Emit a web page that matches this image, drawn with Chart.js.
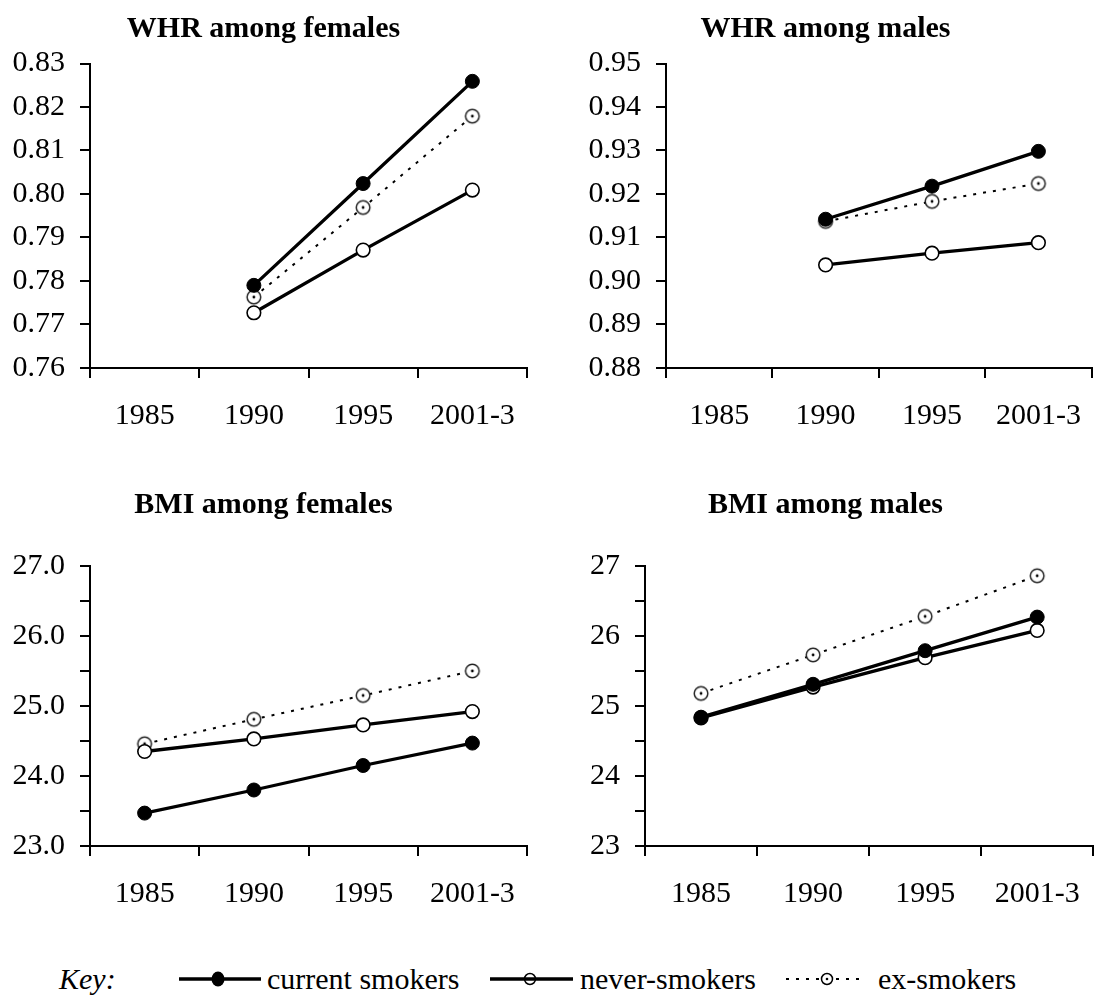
<!DOCTYPE html>
<html><head><meta charset="utf-8">
<script src="https://cdn.jsdelivr.net/npm/chart.js@4.4.0/dist/chart.umd.min.js"></script>
<style>
html,body{margin:0;padding:0;background:#fff;}
body{width:1102px;height:995px;position:relative;overflow:hidden;font-family:"Liberation Serif","Times New Roman",serif;}
.box{position:absolute;}
#legend{position:absolute;left:0;top:959px;width:1102px;height:40px;}
.lg{position:absolute;top:0;font-size:30px;line-height:40px;color:#000;white-space:nowrap;}
.ic{position:absolute;top:0;}
</style></head><body>
<div class="box" style="left:0;top:0;width:551px;height:440px"><canvas id="c1"></canvas></div>
<div class="box" style="left:551px;top:0;width:551px;height:440px"><canvas id="c2"></canvas></div>
<div class="box" style="left:0;top:440px;width:551px;height:478px"><canvas id="c3"></canvas></div>
<div class="box" style="left:551px;top:440px;width:551px;height:478px"><canvas id="c4"></canvas></div>
<div id="legend">
  <span class="lg" style="left:59px;font-style:italic">Key:</span>
  <canvas class="ic" id="k1" width="82" height="40" style="left:179px"></canvas>
  <span class="lg" style="left:267px">current smokers</span>
  <canvas class="ic" id="k2" width="83" height="40" style="left:490px"></canvas>
  <span class="lg" style="left:580px">never-smokers</span>
  <canvas class="ic" id="k3" width="74" height="40" style="left:786px"></canvas>
  <span class="lg" style="left:878px">ex-smokers</span>
</div>
<script>
// ---- data ----
const categories = ['1985', '1990', '1995', '2001-3'];
const seriesNames = ['current smokers', 'never-smokers', 'ex-smokers'];
const panelTitles = ['WHR among females', 'WHR among males', 'BMI among females', 'BMI among males'];

const whrFemaleCurrent = [null, 0.779, 0.8024, 0.8259];
const whrFemaleNever   = [null, 0.7727, 0.7871, 0.8009];
const whrFemaleEx      = [null, 0.7763, 0.7969, 0.8179];

const whrMaleCurrent = [null, 0.9142, 0.9218, 0.9298];
const whrMaleNever   = [null, 0.9037, 0.9064, 0.9088];
const whrMaleEx      = [null, 0.9137, 0.9183, 0.9224];

const bmiFemaleCurrent = [23.47, 23.80, 24.15, 24.47];
const bmiFemaleNever   = [24.35, 24.53, 24.73, 24.92];
const bmiFemaleEx      = [24.46, 24.81, 25.15, 25.50];

const bmiMaleCurrent = [24.84, 25.31, 25.79, 26.27];
const bmiMaleNever   = [24.83, 25.27, 25.69, 26.08];
const bmiMaleEx      = [25.18, 25.73, 26.28, 26.86];

const whrFemaleTicks = {min: 0.76, max: 0.83, step: 0.01};
const whrMaleTicks   = {min: 0.88, max: 0.95, step: 0.01};
const bmiFemaleTicks = {min: 23, max: 27, step: 0.5};
const bmiMaleTicks   = {min: 23, max: 27, step: 0.5};

// ---- styling ----
const FONT = '"Liberation Serif", "Times New Roman", serif';

function exMarker(r, stroke) {
  const c = document.createElement('canvas');
  const s = Math.ceil(r * 2 + 4);
  c.width = s; c.height = s;
  const g = c.getContext('2d');
  g.beginPath(); g.arc(s / 2, s / 2, r, 0, Math.PI * 2);
  g.fillStyle = '#fff'; g.fill();
  g.lineWidth = 1.5; g.strokeStyle = stroke; g.stroke();
  g.beginPath(); g.arc(s / 2, s / 2, 1.4, 0, Math.PI * 2);
  g.fillStyle = '#000'; g.fill();
  return c;
}
const exPoint = exMarker(6.8, '#222');

function datasets(cur, nev, ex) {
  return [
    {label: seriesNames[0], data: cur, borderColor: '#000', borderWidth: 3.3, pointStyle: 'circle',
     pointRadius: 7, pointBackgroundColor: '#000', pointBorderColor: '#000', pointBorderWidth: 1},
    {label: seriesNames[1], data: nev, borderColor: '#000', borderWidth: 3.3, pointStyle: 'circle',
     pointRadius: 6.8, pointBackgroundColor: '#fff', pointBorderColor: '#000', pointBorderWidth: 1.6},
    {label: seriesNames[2], data: ex, borderColor: '#000', borderWidth: 2, borderDash: [3, 7], pointStyle: exPoint,
     pointRadius: 6.8}
  ];
}

function makeChart(id, title, ds, tk, fmt, o) {
  new Chart(document.getElementById(id), {
    type: 'line',
    data: {labels: categories, datasets: ds},
    options: {
      responsive: true, maintainAspectRatio: false, animation: false,
      elements: {line: {tension: 0}},
      layout: {padding: {left: 0, right: o.padRight, top: 0, bottom: 0}},
      plugins: {
        legend: {display: false}, tooltip: {enabled: false},
        title: {display: true, text: title, color: '#000',
          font: {family: FONT, size: 30, weight: 'bold', lineHeight: 1.2},
          padding: {top: o.tTop, bottom: o.tBottom}}
      },
      scales: {
        x: {
          type: 'category', offset: true,
          grid: {display: true, offset: true, drawOnChartArea: false, drawTicks: true, tickLength: 10, color: '#000', lineWidth: 2},
          border: {display: true, color: '#000', width: 2},
          ticks: {color: '#000', font: {family: FONT, size: 30}, padding: 20, maxRotation: 0, autoSkip: false},
          afterFit: s => { s.height = 72; }
        },
        y: {
          min: tk.min, max: tk.max,
          grid: {display: true, drawOnChartArea: false, drawTicks: true, tickLength: 10, color: '#000', lineWidth: 2},
          border: {display: true, color: '#000', width: 2},
          ticks: {stepSize: tk.step, autoSkip: false, color: '#000', font: {family: FONT, size: 30}, padding: 15,
            callback: v => fmt(v)},
          afterFit: s => { s.width = o.yWidth; }
        }
      }
    }
  });
}

const f2 = v => Number(v).toFixed(2);
const f1 = v => (Math.abs(v - Math.round(v)) < 1e-6 ? Number(v).toFixed(1) : '');
const f0 = v => (Math.abs(v - Math.round(v)) < 1e-6 ? String(Math.round(v)) : '');

makeChart('c1', panelTitles[0], datasets(whrFemaleCurrent, whrFemaleNever, whrFemaleEx), whrFemaleTicks, f2,
  {padRight: 24, yWidth: 90, tTop: 11, tBottom: 16.5});
makeChart('c2', panelTitles[1], datasets(whrMaleCurrent, whrMaleNever, whrMaleEx), whrMaleTicks, f2,
  {padRight: 2, yWidth: 115, tTop: 11, tBottom: 16.5});
makeChart('c3', panelTitles[2], datasets(bmiFemaleCurrent, bmiFemaleNever, bmiFemaleEx), bmiFemaleTicks, f1,
  {padRight: 24, yWidth: 90, tTop: 47, tBottom: 43});
makeChart('c4', panelTitles[3], datasets(bmiMaleCurrent, bmiMaleNever, bmiMaleEx), bmiMaleTicks, f0,
  {padRight: 2, yWidth: 94, tTop: 47, tBottom: 43});

// ---- legend icons ----
function icon(id, kind) {
  const c = document.getElementById(id), g = c.getContext('2d');
  const w = c.width, y = 20;
  if (kind === 0) {
    g.lineWidth = 3.5; g.strokeStyle = '#000';
    g.beginPath(); g.moveTo(0, y); g.lineTo(w, y); g.stroke();
    g.beginPath(); g.ellipse(39, y, 6.5, 7.5, 0, 0, Math.PI * 2); g.fillStyle = '#000'; g.fill();
  } else if (kind === 1) {
    g.beginPath(); g.arc(40, y, 5.5, 0, Math.PI * 2); g.fillStyle = '#fff'; g.fill();
    g.lineWidth = 1.5; g.strokeStyle = '#000'; g.stroke();
    g.lineWidth = 3.5; g.beginPath(); g.moveTo(0, y); g.lineTo(w, y); g.stroke();
  } else {
    g.lineWidth = 2; g.strokeStyle = '#000'; g.setLineDash([3, 7]);
    g.beginPath(); g.moveTo(0, y); g.lineTo(w, y); g.stroke();
    g.setLineDash([]);
    g.beginPath(); g.arc(41, y, 5.5, 0, Math.PI * 2); g.fillStyle = '#fff'; g.fill();
    g.lineWidth = 1.5; g.stroke();
    g.beginPath(); g.arc(41, y, 1.3, 0, Math.PI * 2); g.fillStyle = '#000'; g.fill();
  }
}
icon('k1', 0); icon('k2', 1); icon('k3', 2);
</script>
</body></html>
